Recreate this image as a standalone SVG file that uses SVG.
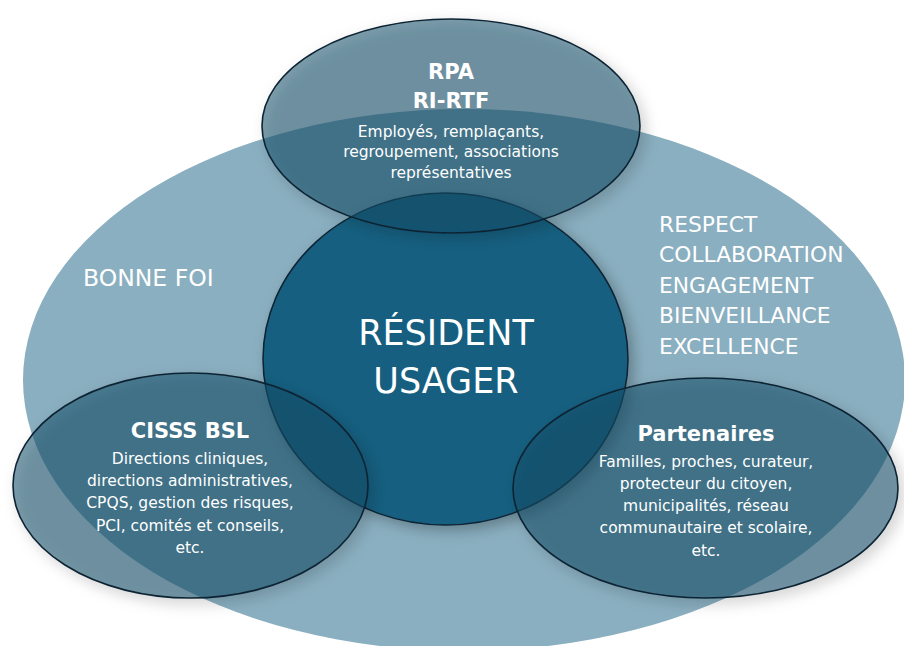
<svg xmlns="http://www.w3.org/2000/svg" width="904" height="646" viewBox="0 0 904 646">
  <defs>
    <filter id="shadow" x="-20%" y="-20%" width="150%" height="150%">
      <feGaussianBlur in="SourceAlpha" stdDeviation="7"/>
      <feOffset dx="5" dy="5" result="blur"/>
      <feFlood flood-color="#000" flood-opacity="0.28"/>
      <feComposite in2="blur" operator="in" result="sh"/>
      <feMerge>
        <feMergeNode in="sh"/>
        <feMergeNode in="SourceGraphic"/>
      </feMerge>
    </filter>
  </defs>
  <style>
    .bg { fill: #8AAFC0; }
    .core { fill: #185E80; stroke: #0B2433; stroke-width: 1.5; }
    .ring { fill: #184F69; fill-opacity: 0.55; stroke: #0B2433; stroke-width: 1.6; }
    text { font-family: "DejaVu Sans", "Liberation Sans", sans-serif; fill: #FFFFFF; }
    .title { font-size: 21px; font-weight: 700; text-anchor: middle; }
    .body { font-size: 15.5px; text-anchor: middle; }
    .value { font-size: 21.8px; }
    .main { font-size: 35px; text-anchor: middle; }
  </style>

  <!-- background field with the shared values -->
  <g id="values">
    <ellipse class="bg" cx="464" cy="380" rx="441" ry="271"/>
    <text class="value" x="83" y="286" style="font-size:23.5px">BONNE FOI</text>
    <text class="value" x="659" y="232">RESPECT</text>
    <text class="value" x="659" y="262">COLLABORATION</text>
    <text class="value" x="659" y="293">ENGAGEMENT</text>
    <text class="value" x="659" y="323">BIENVEILLANCE</text>
    <text class="value" x="659" y="354">EXCELLENCE</text>
  </g>

  <!-- central circle -->
  <g id="resident">
    <ellipse class="core" cx="445.5" cy="359" rx="182.5" ry="166" filter="url(#shadow)"/>
    <text class="main" x="446" y="345">RÉSIDENT</text>
    <text class="main" x="446" y="393">USAGER</text>
  </g>

  <!-- top circle -->
  <g id="rpa">
    <ellipse class="ring" cx="451" cy="126" rx="189" ry="107" filter="url(#shadow)"/>
    <text class="title" x="451" y="79">RPA</text>
    <text class="title" x="451" y="108">RI-RTF</text>
    <text class="body" x="451" y="137">Employés, remplaçants,</text>
    <text class="body" x="451" y="157">regroupement, associations</text>
    <text class="body" x="451" y="178">représentatives</text>
  </g>

  <!-- lower left circle -->
  <g id="cisss">
    <ellipse class="ring" cx="190.5" cy="485.5" rx="177.5" ry="112.5" filter="url(#shadow)"/>
    <text class="title" x="190" y="438">CISSS BSL</text>
    <text class="body" x="190" y="464">Directions cliniques,</text>
    <text class="body" x="190" y="486">directions administratives,</text>
    <text class="body" x="190" y="508">CPQS, gestion des risques,</text>
    <text class="body" x="190" y="531">PCI, comités et conseils,</text>
    <text class="body" x="190" y="553">etc.</text>
  </g>

  <!-- lower right circle -->
  <g id="partenaires">
    <ellipse class="ring" cx="705.5" cy="488" rx="192.5" ry="110" filter="url(#shadow)"/>
    <text class="title" x="706" y="441">Partenaires</text>
    <text class="body" x="706" y="467">Familles, proches, curateur,</text>
    <text class="body" x="706" y="489">protecteur du citoyen,</text>
    <text class="body" x="706" y="511">municipalités, réseau</text>
    <text class="body" x="706" y="533">communautaire et scolaire,</text>
    <text class="body" x="706" y="556">etc.</text>
  </g>

  <!-- no connectors in this diagram -->
  <g id="connectors"/>
</svg>
